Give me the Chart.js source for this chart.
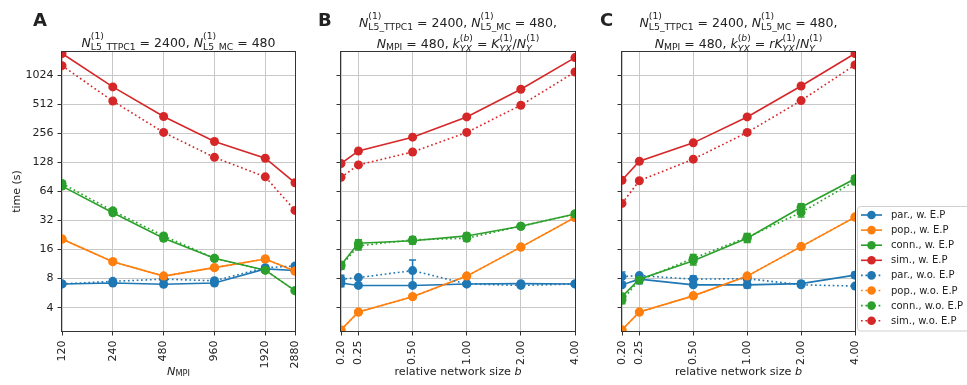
<!DOCTYPE html>
<html>
<head>
<meta charset="utf-8">
<script src="https://cdn.jsdelivr.net/npm/chart.js@4.4.1/dist/chart.umd.min.js"></script>
<style>
  body { margin: 0; background: #fff; }
  #wrap { position: relative; width: 967px; height: 385px; }
  #wrap canvas { position: absolute; left: 0; top: 0; }
</style>
</head>
<body>
<div id="wrap">
  <canvas id="panelA" width="967" height="385"></canvas>
  <canvas id="panelB" width="967" height="385"></canvas>
  <canvas id="panelC" width="967" height="385"></canvas>
</div>
<script>
// x values and ticks
const nMpi = [120, 240, 480, 960, 1920, 2880];
const relSize = [0.2, 0.25, 0.5, 1, 2, 4];
const yTicks = [4, 8, 16, 32, 64, 128, 256, 512, 1024];
const seriesLabels = ['par., w. E.P', 'pop., w. E.P', 'conn., w. E.P', 'sim., w. E.P',
                      'par., w.o. E.P', 'pop., w.o. E.P', 'conn., w.o. E.P', 'sim., w.o. E.P'];

// panel A, time (s) over N_MPI
const aParW    = [7.05, 7.2, 7.0, 7.2, 10.1, 9.7];
const aPopW    = [20.6, 12.0, 8.5, 10.4, 12.8, 9.6];
const aConnW   = [73, 38.6, 21, 13, 9.8, 6.0];
const aSimW    = [1735, 781, 385, 212, 142, 79];
const aParWo   = [7.05, 7.5, 7.9, 7.6, 10.4, 10.8];
const aPopWo   = [20.6, 12.0, 8.5, 10.4, 12.8, 9.6];
const aConnWo  = [77.7, 40.4, 22.2, 13, 9.8, 6.0];
const aSimWo   = [1296, 556, 263, 145, 91, 40.8];
const aConnErr = [4, 2, 1.2, 0.7, 0.5, 0.2];
const aParWoErr = [0, 0, 0, 0, 0.5, 0.6];

// panel B, time (s) over relative network size b
const bParW    = [7.2, 6.8, 6.8, 7.05, 7.1, 7.05];
const bPopW    = [2.35, 3.6, 5.2, 8.5, 17, 34.5];
const bConnW   = [11.1, 18.6, 19.8, 22.2, 28, 37.5];
const bSimW    = [125, 169, 235, 381, 739, 1573];
const bParWo   = [7.9, 8.2, 9.7, 7.05, 6.8, 7.05];
const bPopWo   = [2.35, 3.6, 5.2, 8.5, 17, 34.5];
const bConnWo  = [10.8, 17.5, 20.2, 21, 28, 37.5];
const bSimWo   = [90, 121, 165, 263, 504, 1115];
const bParWErr  = [0.6, 0, 0, 0, 0, 0];
const bParWoErr = [0.8, 0, 2.8, 0, 0, 0];
const bConnErr  = [0.8, 1.6, 1.5, 1.5, 1, 0.5];

// panel C, time (s) over relative network size b
const cParW    = [6.9, 7.9, 6.9, 6.9, 7.1, 8.7];
const cPopW    = [2.35, 3.6, 5.3, 8.5, 17.2, 34.8];
const cConnW   = [5.2, 7.9, 12.3, 21, 44, 87];
const cSimW    = [84, 132, 205, 381, 798, 1735];
const cParWo   = [8.4, 8.6, 7.9, 8.0, 6.9, 6.7];
const cPopWo   = [2.35, 3.6, 5.3, 8.5, 17.2, 34.8];
const cConnWo  = [4.8, 7.7, 13, 21.5, 38.9, 82];
const cSimWo   = [48.3, 83, 139, 263, 563, 1320];
const cParWErr  = [0, 0.8, 0, 0.5, 0.4, 0.6];
const cParWoErr = [1.0, 0, 0.6, 0.5, 0, 0];
const cConnErr  = [0.4, 0.5, 1.2, 2, 4, 6];

const colors = ['#1f77b4', '#ff7f0e', '#2ca02c', '#d62728'];
const FONT = '"DejaVu Sans"';
const textColor = '#222';
const gridColor = '#c8c8c8';
const axisColor = '#333';

Chart.defaults.font.family = FONT;
Chart.defaults.color = textColor;

// mathtext-ish rich text: strings upright, {t, i} italic, {sup, sub} scripts
function runItems(ctx, items, x, y, size, draw) {
  let w = 0;
  for (const it of items) {
    if (typeof it === 'string' || it.t !== undefined) {
      const t = typeof it === 'string' ? it : it.t;
      ctx.font = (it.i ? 'italic ' : '') + size + 'px ' + FONT;
      if (draw) ctx.fillText(t, x + w, y);
      w += ctx.measureText(t).width;
    } else {
      const s = size * 0.74;
      let wa = 0, wb = 0;
      if (it.sup) wa = runItems(ctx, it.sup, x + w, y - size * 0.62, s, draw);
      if (it.sub) wb = runItems(ctx, it.sub, x + w, y + size * (it.sup ? 0.26 : 0.16), s, draw);
      w += Math.max(wa, wb);
    }
  }
  return w;
}
function drawRich(ctx, items, cx, y, size) {
  const w = runItems(ctx, items, 0, 0, size, false);
  runItems(ctx, items, cx - w / 2, y, size, true);
}

const N1 = sub => [{ t: 'N', i: 1 }, { sup: ['(1)'], sub: [sub] }];
const line1 = [...N1('L5_TTPC1'), ' = 2400, ', ...N1('L5_MC'), ' = 480'];
const nmpiPart = [{ t: 'N', i: 1 }, { sub: ['MPI'] }, ' = 480, ', { t: 'k', i: 1 },
  { sup: ['(', { t: 'b', i: 1 }, ')'], sub: [{ t: 'YX', i: 1 }] }, ' = '];
const kRest = [{ t: 'K', i: 1 }, { sup: ['(1)'], sub: [{ t: 'YX', i: 1 }] }, '/',
  { t: 'N', i: 1 }, { sup: ['(1)'], sub: [{ t: 'Y', i: 1 }] }];
const relLabel = ['relative network size ', { t: 'b', i: 1 }];

const panelText = {
  id: 'panelText',
  afterDraw(chart, args, opts) {
    const ctx = chart.ctx, a = chart.chartArea;
    const cx = (a.left + a.right) / 2;
    ctx.save();
    ctx.fillStyle = textColor;
    ctx.textAlign = 'left';
    ctx.textBaseline = 'alphabetic';
    ctx.font = 'bold 18px ' + FONT;
    ctx.fillText(opts.letter, opts.letterX, 26);
    opts.title.forEach((ln, k) => drawRich(ctx, ln, cx, opts.titleY[k], 12.5));
    drawRich(ctx, opts.xLabel, cx, 374.5, 11.2);
    ctx.restore();
  }
};

const frame = {
  id: 'frame',
  afterDatasetsDraw(chart) {
    const ctx = chart.ctx, a = chart.chartArea;
    ctx.save();
    ctx.strokeStyle = axisColor;
    ctx.lineWidth = 1;
    ctx.strokeRect(Math.round(a.left) - 0.5, Math.round(a.top) - 0.5,
      Math.round(a.right - a.left) + 1, Math.round(a.bottom - a.top) + 1);
    ctx.restore();
  }
};

const errorBars = {
  id: 'errorBars',
  afterDatasetDraw(chart, args) {
    const ds = chart.data.datasets[args.index];
    if (!ds.err) return;
    const ctx = chart.ctx, a = chart.chartArea;
    const xs = chart.scales.x, ys = chart.scales.y;
    ctx.save();
    ctx.beginPath();
    ctx.rect(a.left, a.top, a.right - a.left, a.bottom - a.top);
    ctx.clip();
    ctx.strokeStyle = ds.borderColor;
    ctx.lineWidth = 1.5;
    ds.data.forEach((p, i) => {
      const e = ds.err[i];
      if (!e) return;
      const x = xs.getPixelForValue(p.x);
      const y1 = ys.getPixelForValue(p.y + e);
      const y2 = ys.getPixelForValue(Math.max(p.y - e, 0.01));
      ctx.beginPath();
      ctx.moveTo(x, y1); ctx.lineTo(x, y2);
      ctx.moveTo(x - 3.5, y1); ctx.lineTo(x + 3.5, y1);
      ctx.moveTo(x - 3.5, y2); ctx.lineTo(x + 3.5, y2);
      ctx.stroke();
    });
    ctx.restore();
  }
};

const boxLegend = {
  id: 'boxLegend',
  afterDraw(chart) {
    const ctx = chart.ctx;
    ctx.save();
    ctx.beginPath();
    ctx.roundRect(857.5, 206.5, 120, 124.5, 3);
    ctx.fillStyle = 'rgba(255,255,255,0.8)';
    ctx.fill();
    ctx.strokeStyle = '#d0d0d0';
    ctx.lineWidth = 1;
    ctx.stroke();
    chart.data.datasets.forEach((ds, i) => {
      const y = 215 + i * 15.1;
      ctx.strokeStyle = ds.borderColor;
      ctx.lineWidth = 1.6;
      ctx.setLineDash(ds.borderDash);
      ctx.beginPath(); ctx.moveTo(861, y); ctx.lineTo(882, y); ctx.stroke();
      ctx.setLineDash([]);
      ctx.fillStyle = ds.borderColor;
      ctx.beginPath(); ctx.arc(871.5, y, 4.3, 0, Math.PI * 2); ctx.fill();
      ctx.fillStyle = textColor;
      ctx.font = '10px ' + FONT;
      ctx.textBaseline = 'middle';
      ctx.fillText(ds.label, 891, y + 0.5);
    });
    ctx.restore();
  }
};

function series(xs, values, idx, err) {
  const k = idx % 4, dotted = idx >= 4;
  return {
    label: seriesLabels[idx],
    data: xs.map((x, i) => ({ x, y: values[i] })),
    borderColor: colors[k],
    backgroundColor: colors[k],
    borderWidth: 1.6,
    borderDash: dotted ? [1.7, 2.7] : [],
    pointRadius: 4.5,
    pointHoverRadius: 4.5,
    pointBorderWidth: 0,
    clip: 0,
    order: 8 - idx,
    err
  };
}

function makePanel(id, xs, xMin, xMax, xFmt, left, right, sets, text, withY, extra) {
  const yW = withY ? 62 : 5;
  return new Chart(document.getElementById(id), {
    type: 'line',
    data: { datasets: sets },
    plugins: [frame, errorBars, panelText].concat(extra || []),
    options: {
      responsive: false,
      animation: false,
      events: [],
      layout: { padding: { left: left - yW, right: 967 - right, top: 52, bottom: 0 } },
      plugins: { legend: { display: false }, tooltip: { enabled: false }, panelText: text },
      scales: {
        x: {
          type: 'logarithmic', min: xMin, max: xMax,
          afterBuildTicks: s => { s.ticks = xs.map(v => ({ value: v })); },
          afterFit: s => { s.height = 54; },
          grid: { color: gridColor, lineWidth: 1, tickLength: 4.5, tickColor: axisColor },
          border: { display: false },
          ticks: { autoSkip: false, minRotation: 90, maxRotation: 90, padding: 5,
                   color: textColor, font: { size: 11 }, callback: xFmt }
        },
        y: {
          type: 'logarithmic', min: 2.29, max: 1797,
          afterBuildTicks: s => { s.ticks = yTicks.map(v => ({ value: v })); },
          afterFit: s => { s.width = yW; },
          grid: { color: gridColor, lineWidth: 1, tickLength: 4.5, tickColor: axisColor },
          border: { display: false },
          ticks: { display: withY, padding: 4, color: textColor, font: { size: 11 },
                   callback: v => String(v) },
          title: { display: withY, text: 'time (s)', color: textColor, font: { size: 11 },
                   padding: { top: 11, bottom: 0 } }
        }
      }
    }
  });
}

makePanel('panelA', nMpi, 120, 2880, v => String(v), 62, 295, [
  series(nMpi, aParW, 0), series(nMpi, aPopW, 1), series(nMpi, aConnW, 2, aConnErr), series(nMpi, aSimW, 3),
  series(nMpi, aParWo, 4, aParWoErr), series(nMpi, aPopWo, 5), series(nMpi, aConnWo, 6, aConnErr), series(nMpi, aSimWo, 7)
], { letter: 'A', letterX: 33, title: [line1], titleY: [46.7],
     xLabel: [{ t: 'N', i: 1 }, { sub: ['MPI'] }] }, true);

makePanel('panelB', relSize, 0.2, 4, v => v.toFixed(2), 341, 575, [
  series(relSize, bParW, 0, bParWErr), series(relSize, bPopW, 1), series(relSize, bConnW, 2, bConnErr), series(relSize, bSimW, 3),
  series(relSize, bParWo, 4, bParWoErr), series(relSize, bPopWo, 5), series(relSize, bConnWo, 6, bConnErr), series(relSize, bSimWo, 7)
], { letter: 'B', letterX: 318, title: [[...line1, ','], [...nmpiPart, ...kRest]], titleY: [26.7, 48.3],
     xLabel: relLabel }, false);

makePanel('panelC', relSize, 0.2, 4, v => v.toFixed(2), 622, 855, [
  series(relSize, cParW, 0, cParWErr), series(relSize, cPopW, 1), series(relSize, cConnW, 2, cConnErr), series(relSize, cSimW, 3),
  series(relSize, cParWo, 4, cParWoErr), series(relSize, cPopWo, 5), series(relSize, cConnWo, 6, cConnErr), series(relSize, cSimWo, 7)
], { letter: 'C', letterX: 600, title: [[...line1, ','], [...nmpiPart, { t: 'r', i: 1 }, ...kRest]], titleY: [26.7, 48.3],
     xLabel: relLabel }, false, [boxLegend]);
</script>
</body>
</html>
